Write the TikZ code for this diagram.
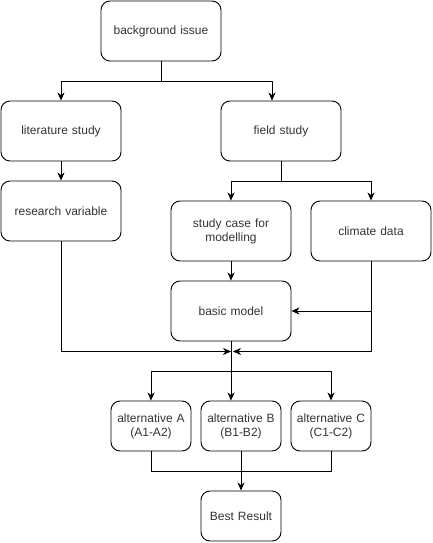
\documentclass[tikz,border=0pt]{standalone}
\usepackage{fontspec}
\setmainfont{Liberation Sans}
\usepackage{tikz}
\usetikzlibrary{arrows.meta}
\usetikzlibrary{positioning}
\definecolor{textgray}{rgb}{0.2,0.2,0.2}

\begin{document}
\begin{tikzpicture}[line cap=round,line join=round,x=1pt,y=-1pt,
  box/.style={draw=black,line width=0.9pt,rounded corners=9pt,minimum width=120pt,minimum height=60pt,text width=110pt,align=center,font=\fontsize{12}{14}\selectfont,text=textgray,inner sep=0pt},
  smallbox/.style={box,minimum width=80pt,minimum height=50pt,text width=78pt},
  link/.style={line width=0.9pt,-{Stealth[length=8pt,width=7pt,inset=2.5pt]}}]
\useasboundingbox (0,0) rectangle (433,543);
\node[box] (bg) at (161,31) {background issue};
\node[box] (lit) at (61,131) {literature study};
\node[box] (fs) at (281,131) {field study};
\node[box] (rv) at (61,211) {research variable};
\node[box] (sc) at (231,231) {study case for\\modelling};
\node[box] (cd) at (371,231) {climate data};
\node[box] (bm) at (231,311) {basic model};
\node[smallbox] (altA) at (151,426) {alternative A\\(A1-A2)};
\node[smallbox] (altB) at (241,426) {alternative B\\(B1-B2)};
\node[smallbox] (altC) at (331,426) {alternative C\\(C1-C2)};
\node[smallbox] (best) at (241,516) {Best Result};
\coordinate (merge) at ([yshift=-10pt]bm.south);
\coordinate (split) at ([yshift=-30pt]bm.south);
\draw[link] (bg.south) -- ++(0,20) -| (lit.north);
\draw[link] (bg.south) -- ++(0,20) -| ([xshift=-9pt]fs.north);
\draw[link] (lit.south) -- (rv.north);
\draw[link] (fs.south) -- ++(0,20) -| (sc.north);
\draw[link] (fs.south) -- ++(0,20) -| (cd.north);
\draw[link] (sc.south) -- (bm.north);
\draw[link] (cd.south) |- (bm.east);
\draw[link] (cd.south) |- ([xshift=2pt]merge);
\draw[link] (rv.south) |- (merge);
\draw[link] (bm.south) -- (bm.south |- altB.north);
\draw[link] (split) -| (altA.north);
\draw[link] (split) -| (altC.north);
\draw[line width=0.9pt] (altA.south) -- ++(0,20) -| (altC.south);
\draw[link] (altB.south) -- (best.north);
\end{tikzpicture}
\end{document}
